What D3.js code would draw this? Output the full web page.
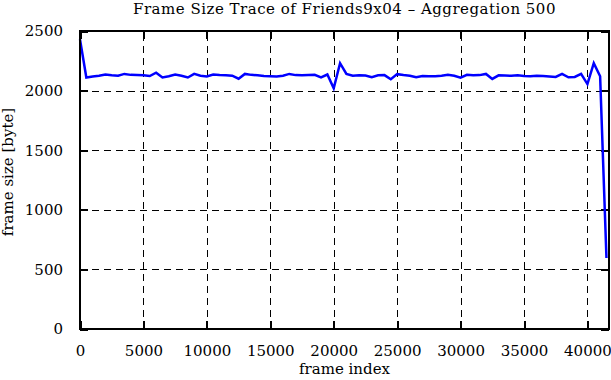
<!DOCTYPE html>
<html>
<head>
<meta charset="utf-8">
<script src="https://cdn.jsdelivr.net/npm/d3@7"></script>
<style>
  body { margin: 0; background: #fff; }
  text { font-family: "DejaVu Serif", serif; fill: #000; }
</style>
</head>
<body>
<div id="chart"></div>
<script>
// svg container
var svgWidth = 611;
var svgHeight = 380;

// plot box (gnuplot style)
var margin = { top: 31, right: 2, bottom: 51, left: 80 };
var width = svgWidth - margin.left - margin.right;
var height = svgHeight - margin.top - margin.bottom;

// data: one point every 500 frames
var aggStep = 500;
var frameSizes = [
  2430, 2110, 2118, 2125, 2135, 2128, 2125, 2140, 2132, 2130,
  2128, 2122, 2150, 2110, 2120, 2135, 2125, 2110, 2140, 2125,
  2118, 2135, 2130, 2128, 2125, 2100, 2140, 2132, 2128, 2122,
  2120, 2118, 2125, 2140, 2130, 2128, 2130, 2132, 2110, 2135,
  2020, 2230, 2140, 2125, 2128, 2126, 2112, 2128, 2130, 2095,
  2138, 2130, 2125, 2112, 2122, 2120, 2120, 2125, 2132, 2125,
  2108, 2132, 2128, 2130, 2140, 2098, 2128, 2126, 2125, 2128,
  2122, 2120, 2125, 2122, 2118, 2115, 2140, 2112, 2115, 2140,
  2055, 2230, 2120, 595
];
var xTicks = [0, 5000, 10000, 15000, 20000, 25000, 30000, 35000, 40000];
var yTicks = [0, 500, 1000, 1500, 2000, 2500];
var xMax = 41700;

var titleText = "Frame Size Trace of Friends9x04 \u2013 Aggregation 500";
var xLabelText = "frame index";
var yLabelText = "frame size [byte]";

var svg = d3.select("#chart")
  .append("svg")
  .attr("width", svgWidth)
  .attr("height", svgHeight);

var chartGroup = svg.append("g")
  .attr("transform", `translate(${margin.left}, ${margin.top})`);

// scales
var xScale = d3.scaleLinear().domain([0, xMax]).range([0, width]);
var yScale = d3.scaleLinear().domain([0, 2500]).range([height, 0]);

// grid
var gridX = d3.axisBottom(xScale).tickValues(xTicks).tickSize(-height).tickFormat("");
var gridY = d3.axisLeft(yScale).tickValues(yTicks).tickSize(-width).tickFormat("");

chartGroup.append("g")
  .attr("class", "grid")
  .attr("transform", `translate(0, ${height})`)
  .call(gridX);
chartGroup.append("g")
  .attr("class", "grid")
  .call(gridY);

chartGroup.selectAll(".grid .domain").remove();
chartGroup.selectAll(".grid line")
  .attr("stroke", "#000")
  .attr("stroke-width", 1)
  .attr("stroke-dasharray", "7,5")
  .attr("shape-rendering", "crispEdges");

// axes with inward ticks (mirrored on top/right)
var bottomAxis = d3.axisBottom(xScale).tickValues(xTicks).tickSizeInner(-8).tickSizeOuter(0).tickPadding(16).tickFormat(d3.format("d"));
var leftAxis = d3.axisLeft(yScale).tickValues(yTicks).tickSizeInner(-8).tickSizeOuter(0).tickPadding(17).tickFormat(d3.format("d"));
var topAxis = d3.axisTop(xScale).tickValues(xTicks).tickSizeInner(-8).tickSizeOuter(0).tickFormat("");
var rightAxis = d3.axisRight(yScale).tickValues(yTicks).tickSizeInner(-8).tickSizeOuter(0).tickFormat("");

chartGroup.append("g").attr("class", "axis").attr("transform", `translate(0, ${height})`).call(bottomAxis);
chartGroup.append("g").attr("class", "axis").call(leftAxis);
chartGroup.append("g").attr("class", "axis").call(topAxis);
chartGroup.append("g").attr("class", "axis").attr("transform", `translate(${width}, 0)`).call(rightAxis);

chartGroup.selectAll(".axis .domain").remove();
chartGroup.selectAll(".axis line")
  .attr("stroke", "#000")
  .attr("stroke-width", 2)
  .attr("shape-rendering", "crispEdges");
chartGroup.selectAll(".axis text")
  .style("font-family", "DejaVu Serif, serif")
  .style("font-size", "15px")
  .attr("fill", "#000");

// the line
var line = d3.line()
  .x((d, i) => xScale(i * aggStep))
  .y(d => yScale(d));

chartGroup.append("path")
  .datum(frameSizes)
  .attr("fill", "none")
  .attr("stroke", "#0000ff")
  .attr("stroke-width", 2.5)
  .attr("stroke-linejoin", "miter")
  .attr("d", line);

// frame
chartGroup.append("rect")
  .attr("x", 0)
  .attr("y", 0)
  .attr("width", width)
  .attr("height", height)
  .attr("fill", "none")
  .attr("stroke", "#000")
  .attr("stroke-width", 2)
  .attr("shape-rendering", "crispEdges");

// title
svg.append("text")
  .attr("x", margin.left + width / 2)
  .attr("y", 14)
  .attr("text-anchor", "middle")
  .style("font-size", "15px")
  .style("letter-spacing", "0.5px")
  .text(titleText);

// x label
svg.append("text")
  .attr("x", margin.left + width / 2)
  .attr("y", 374)
  .attr("text-anchor", "middle")
  .style("font-size", "15px")
  .text(xLabelText);

// y label
svg.append("text")
  .attr("transform", "rotate(-90)")
  .attr("x", -172)
  .attr("y", 13)
  .attr("text-anchor", "middle")
  .style("font-size", "15px")
  .text(yLabelText);
</script>
</body>
</html>
